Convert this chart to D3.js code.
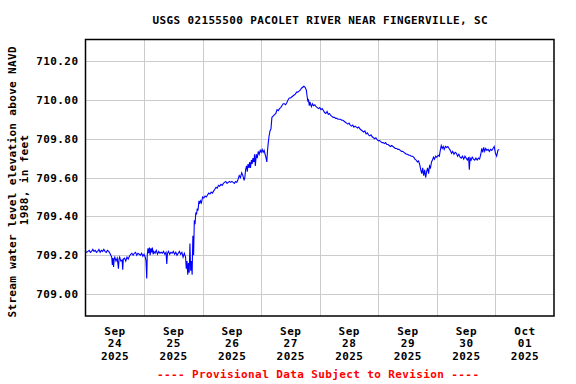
<!doctype html>
<html>
  <head>
    <meta charset="utf-8">
    <title>USGS 02155500 Pacolet River</title>
    <script src="https://cdnjs.cloudflare.com/ajax/libs/d3/7.8.5/d3.min.js"></script>
    <style>
      body { margin: 0; background: #fff; }
      svg { display: block; }
      text { font-family: "DejaVu Sans Mono", "Liberation Mono", monospace; font-weight: bold; fill: #000; }
      .tick-label { font-size: 11px; }
      .title { font-size: 11px; }
      .footer { font-size: 11px; fill: #ff0000; }
      line.grid { stroke: #cccccc; stroke-width: 1; shape-rendering: crispEdges; }
      path.series { fill: none; stroke: #0000ff; stroke-width: 1.1; }
      rect.frame { fill: none; stroke: #000; stroke-width: 1.5; }
    </style>
  </head>
  <body>
    <svg width="576" height="384"></svg>
    <script>
      // hours after Sep 24 2025 00:00, elevation in feet
      var readings = [
        [0,709.22],[0.5,709.215],[1,709.22],[1.5,709.225],[2,709.215],[2.5,709.22],[3,709.23],[3.5,709.22],
        [4,709.225],[4.5,709.215],[5,709.22],[5.5,709.23],[6,709.215],[6.5,709.225],[7,709.22],[7.5,709.23],
        [8,709.22],[8.5,709.215],[9,709.225],[9.5,709.22],[10,709.21],[10.75,709.19],[11,709.15],[11.25,709.185],
        [11.5,709.14],[11.75,709.18],[12,709.19],[12.5,709.17],[13,709.185],[13.25,709.16],[13.5,709.13],[13.75,709.18],
        [14,709.19],[14.5,709.17],[15,709.175],[15.25,709.125],[15.5,709.18],[16,709.185],[16.5,709.17],[17,709.19],
        [17.5,709.18],[18,709.195],[18.5,709.205],[19,709.21],[19.5,709.2],[20,709.21],[20.5,709.215],[21,709.2],
        [21.5,709.21],[22,709.205],[22.5,709.2],[23,709.21],[23.5,709.195],[24,709.205],[24.5,709.19],[24.8,709.17],
        [25.1,709.08],[25.3,709.2],[25.6,709.235],[25.9,709.21],[26.2,709.24],[26.5,709.2],[26.8,709.235],[27.1,709.215],
        [27.4,709.24],[27.7,709.205],[28,709.22],[28.5,709.21],[29,709.225],[29.5,709.205],[30,709.22],[30.5,709.21],
        [31,709.215],[31.5,709.21],[32,709.22],[32.5,709.205],[33,709.215],[33.3,709.155],[33.6,709.21],[34,709.22],
        [34.5,709.205],[35,709.215],[35.5,709.21],[36,709.22],[36.5,709.205],[37,709.215],[37.5,709.2],[38,709.21],
        [38.5,709.22],[39,709.205],[39.5,709.215],[40,709.19],[40.5,709.21],[41,709.19],[41.3,709.13],[41.6,709.17],
        [41.9,709.1],[42.2,709.16],[42.5,709.11],[42.8,709.26],[43.1,709.12],[43.4,709.17],[43.7,709.1],[44,709.3],
        [44.3,709.2],[44.6,709.38],[44.9,709.36],[45.2,709.42],[45.5,709.41],[45.8,709.44],[46.1,709.43],[46.5,709.48],
        [46.8,709.465],[47.1,709.48],[47.5,709.47],[48,709.5],[48.5,709.495],[49,709.505],[49.5,709.5],[50,709.51],
        [50.5,709.52],[51,709.515],[51.5,709.525],[52,709.52],[52.5,709.53],[53,709.54],[53.5,709.55],[54,709.545],
        [54.5,709.56],[55,709.555],[55.5,709.565],[56,709.56],[56.5,709.57],[57,709.575],[57.5,709.58],[58,709.57],
        [58.5,709.575],[59,709.58],[59.5,709.575],[60,709.58],[60.5,709.575],[61,709.57],[61.5,709.58],[62,709.575],
        [62.5,709.59],[63,709.61],[63.5,709.6],[64,709.625],[64.5,709.61],[65,709.585],[65.3,709.6],[65.6,709.64],
        [66,709.66],[66.3,709.63],[66.6,709.67],[67,709.65],[67.3,709.68],[67.6,709.65],[68,709.69],[68.3,709.67],
        [68.6,709.7],[69,709.68],[69.3,709.72],[69.6,709.66],[70,709.72],[70.4,709.7],[70.8,709.735],[71.2,709.72],
        [71.6,709.74],[72,709.73],[72.4,709.745],[72.8,709.73],[73.2,709.74],[73.6,709.72],[74,709.7],[74.3,709.68],
        [74.6,709.74],[74.9,709.78],[75.2,709.81],[75.6,709.84],[76,709.85],[76.4,709.91],[76.8,709.915],[77.2,709.92],
        [77.6,709.925],[78,709.93],[78.5,709.95],[79,709.945],[79.5,709.955],[80,709.96],[80.5,709.97],[81,709.98],
        [81.5,709.98],[82,709.975],[82.5,709.985],[83,710.0],[83.5,710.01],[84,710.01],[84.5,710.015],[85,710.02],
        [85.5,710.025],[86,710.03],[86.5,710.04],[87,710.04],[87.5,710.045],[88,710.05],[88.5,710.06],[89,710.065],
        [89.5,710.07],[90,710.065],[90.5,710.05],[90.8,710.02],[91.1,709.995],[91.4,710.0],[91.7,709.97],[92,709.99],
        [92.3,709.975],[92.6,709.965],[93,709.98],[93.5,709.97],[94,709.975],[94.5,709.965],[95,709.96],[95.5,709.955],
        [96,709.96],[96.5,709.95],[97,709.955],[97.5,709.945],[98,709.935],[98.5,709.93],[99,709.94],[99.5,709.925],
        [100,709.93],[100.5,709.92],[101,709.915],[101.5,709.91],[102,709.91],[102.5,709.905],[103,709.905],[103.5,709.9],
        [104,709.9],[104.5,709.9],[105,709.895],[105.5,709.895],[106,709.89],[106.5,709.885],[107,709.88],[107.5,709.875],
        [108,709.88],[108.5,709.87],[109,709.865],[109.5,709.87],[110,709.86],[110.5,709.865],[111,709.86],[111.5,709.855],
        [112,709.86],[112.5,709.85],[113,709.845],[113.5,709.84],[114,709.835],[114.5,709.84],[115,709.825],[115.5,709.83],
        [116,709.82],[116.5,709.815],[117,709.82],[117.5,709.81],[118,709.805],[118.5,709.8],[119,709.805],[119.5,709.795],
        [120,709.79],[120.5,709.79],[121,709.785],[121.5,709.78],[122,709.78],[122.5,709.775],[123,709.78],[123.5,709.77],
        [124,709.77],[124.5,709.765],[125,709.76],[125.5,709.765],[126,709.76],[126.5,709.755],[127,709.75],[127.5,709.75],
        [128,709.745],[128.5,709.745],[129,709.74],[129.5,709.735],[130,709.735],[130.5,709.73],[131,709.725],[131.5,709.72],
        [132,709.72],[132.5,709.715],[133,709.715],[133.5,709.71],[134,709.71],[134.5,709.705],[135,709.695],[135.5,709.69],
        [136,709.68],[136.5,709.685],[137,709.665],[137.4,709.64],[137.8,709.62],[138.2,709.65],[138.6,709.61],[139,709.64],
        [139.4,709.6],[139.8,709.63],[140.2,709.65],[140.6,709.62],[141,709.66],[141.4,709.65],[141.8,709.68],[142.2,709.69],
        [142.6,709.705],[143,709.695],[143.5,709.71],[144,709.705],[144.5,709.715],[145,709.71],[145.4,709.74],[145.8,709.765],
        [146.2,709.75],[146.6,709.76],[147,709.745],[147.5,709.76],[148,709.755],[148.5,709.76],[149,709.75],[149.5,709.74],
        [150,709.725],[150.5,709.735],[151,709.72],[151.5,709.73],[152,709.725],[152.5,709.71],[153,709.72],[153.5,709.705],
        [154,709.7],[154.5,709.71],[155,709.695],[155.5,709.71],[156,709.7],[156.5,709.69],[157,709.705],[157.3,709.64],
        [157.6,709.7],[158,709.69],[158.5,709.705],[159,709.695],[159.5,709.69],[160,709.7],[160.5,709.69],[161,709.7],
        [161.5,709.695],[162,709.72],[162.4,709.75],[162.8,709.73],[163.2,709.755],[163.6,709.735],[164,709.75],[164.5,709.74],
        [165,709.745],[165.5,709.735],[166,709.745],[166.5,709.74],[167,709.75],[167.5,709.76],[168,709.725],[168.5,709.71],
        [169,709.74],[169.5,709.745]
      ];
      var yTicks = [709.00, 709.20, 709.40, 709.60, 709.80, 710.00, 710.20];
      var dayStarts = ["2025-09-24","2025-09-25","2025-09-26","2025-09-27","2025-09-28","2025-09-29","2025-09-30","2025-10-01"];

      var start = new Date(2025, 8, 24);
      var end = new Date(2025, 9, 2);
      var parseDay = d3.timeParse("%Y-%m-%d");
      var days = dayStarts.map(parseDay);

      var plotL = 85.5, plotR = 554, plotT = 39.5, plotB = 316;
      var x = d3.scaleTime().domain([start, end]).range([plotL, plotR]);
      var y = d3.scaleLinear().domain([708.887, 710.311]).range([plotB, plotT]);

      var svg = d3.select("svg");

      // monospace text stretched to the reference's character pitch
      function pitch(sel, w) {
        sel.attr("textLength", function() { return this.textContent.length * w; })
           .attr("lengthAdjust", "spacing");
      }

      // grid
      svg.selectAll("line.hgrid").data(yTicks).enter().append("line")
        .attr("class", "grid")
        .attr("x1", plotL).attr("x2", plotR)
        .attr("y1", d => Math.round(y(d)) + 0.5).attr("y2", d => Math.round(y(d)) + 0.5);
      svg.selectAll("line.vgrid").data(days.slice(1)).enter().append("line")
        .attr("class", "grid")
        .attr("y1", plotT).attr("y2", plotB)
        .attr("x1", d => Math.round(x(d)) + 0.5).attr("x2", d => Math.round(x(d)) + 0.5);

      // series
      var line = d3.line()
        .x(d => x(new Date(start.getTime() + d[0] * 3600e3)))
        .y(d => y(d[1]));
      svg.append("path").datum(readings).attr("class", "series").attr("d", line);

      svg.append("rect").attr("class", "frame")
        .attr("x", plotL).attr("y", plotT)
        .attr("width", plotR - plotL).attr("height", plotB - plotT);

      // y tick labels
      svg.selectAll("text.ylab").data(yTicks).enter().append("text")
        .attr("class", "tick-label")
        .attr("x", 78).attr("y", d => y(d) + 4)
        .attr("text-anchor", "end")
        .text(d => d3.format(".2f")(d))
        .call(pitch, 6.95);

      // x tick labels, centred at noon
      var fmts = [d3.timeFormat("%b"), d3.timeFormat("%d"), d3.timeFormat("%Y")];
      var g = svg.selectAll("g.xlab").data(days).enter().append("g")
        .attr("transform", d => "translate(" + x(d3.timeHour.offset(d, 12)) + ",0)");
      fmts.forEach(function(f, i) {
        g.append("text").attr("class", "tick-label")
          .attr("text-anchor", "middle")
          .attr("y", 334.7 + i * 12.5)
          .text(d => f(d))
          .call(pitch, 6.95);
      });

      svg.append("text").attr("class", "title")
        .attr("x", 320).attr("y", 24).attr("text-anchor", "middle")
        .text("USGS 02155500 PACOLET RIVER NEAR FINGERVILLE, SC")
        .call(pitch, 6.98);

      var yt = svg.append("g").attr("transform", "translate(0,182) rotate(-90)");
      yt.append("text").attr("class", "tick-label")
        .attr("x", 0).attr("y", 15.7).attr("text-anchor", "middle")
        .text("Stream water level elevation above NAVD")
        .call(pitch, 6.95);
      yt.append("text").attr("class", "tick-label")
        .attr("x", 2).attr("y", 28.2).attr("text-anchor", "middle")
        .text("1988, in feet")
        .call(pitch, 6.95);

      svg.append("text").attr("class", "footer")
        .attr("x", 318).attr("y", 378.3).attr("text-anchor", "middle")
        .text("---- Provisional Data Subject to Revision ----")
        .call(pitch, 7.0);
    </script>
  </body>
</html>
